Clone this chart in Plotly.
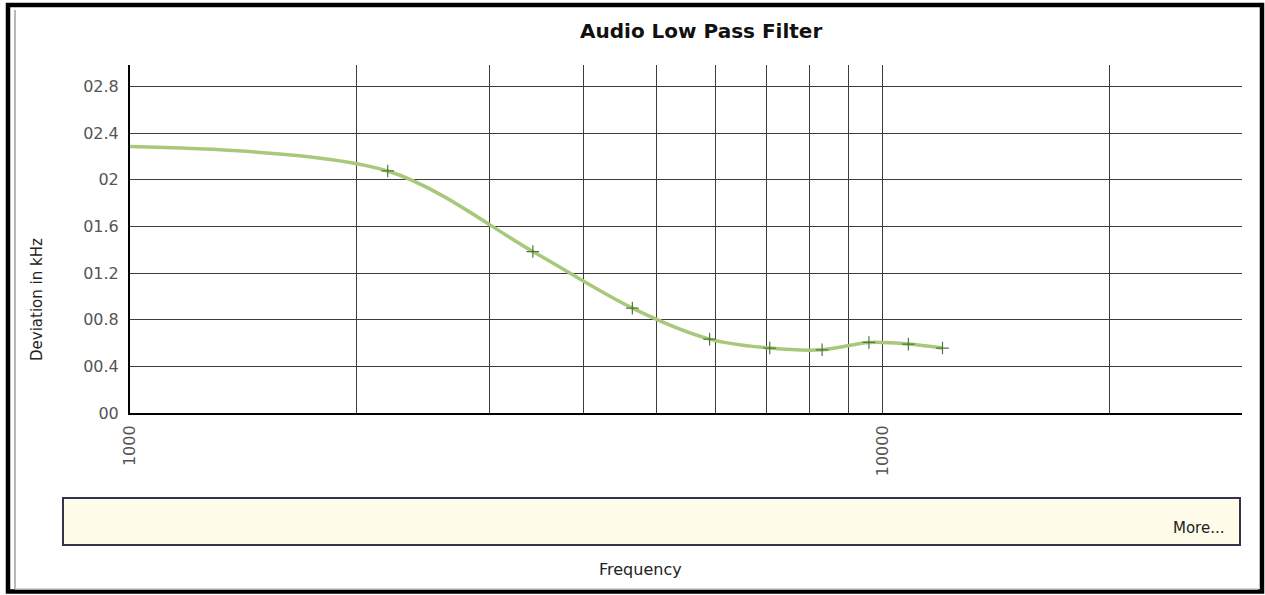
import plotly.graph_objects as go

# ---- data ----
freq_hz = [1000, 2200, 3430, 4650, 5890, 7080, 8310, 9590, 10820, 12010]
deviation_khz = [2.285, 2.076, 1.385, 0.90, 0.634, 0.557, 0.542, 0.605, 0.591, 0.557]

x_grid_vals = [1000, 2000, 3000, 4000, 5000, 6000, 7000, 8000, 9000, 10000, 20000, 30000]
x_grid_text = ["1000", "", "", "", "", "", "", "", "", "10000", "", ""]
y_tick_vals = [0, 0.4, 0.8, 1.2, 1.6, 2.0, 2.4, 2.8]
y_tick_text = ["00", "00.4", "00.8", "01.2", "01.6", "02", "02.4", "02.8"]

title_text = "Audio Low Pass Filter"
x_title = "Frequency"
y_title = "Deviation in kHz"

W, H = 1265, 595
L, R, T, B = 130, 1242, 65, 413  # plot area in pixels


def px(x):
    return (x - L) / (R - L)


def py(y):
    return (B - y) / (B - T)


fig = go.Figure()
fig.add_trace(go.Scatter(
    x=freq_hz, y=deviation_khz,
    mode="lines", line=dict(color="#a8c87c", width=3.5, shape="spline", smoothing=0.9),
    hoverinfo="skip", showlegend=False,
))
fig.add_trace(go.Scatter(
    x=freq_hz[1:], y=deviation_khz[1:],
    mode="markers",
    marker=dict(symbol="cross-thin", size=9, line=dict(color="#4b7a33", width=1.2)),
    showlegend=False,
))

font_main = "DejaVu Sans, Verdana, sans-serif"

fig.update_layout(
    width=W, height=H,
    margin=dict(l=L, r=W - R, t=T, b=H - B),
    paper_bgcolor="white", plot_bgcolor="white",
    showlegend=False,
    xaxis=dict(
        type="log", range=[3, 4.4775],
        tickmode="array", tickvals=x_grid_vals, ticktext=x_grid_text,
        tickangle=-90, tickfont=dict(family=font_main, size=16, color="#555"),
        showgrid=True, gridcolor="#3c3c3c", gridwidth=1,
        showline=True, linecolor="black", linewidth=2,
        ticks="", zeroline=False, ticklabelstandoff=4,
    ),
    yaxis=dict(
        range=[0, 2.985],
        tickmode="array", tickvals=y_tick_vals, ticktext=y_tick_text,
        tickfont=dict(family=font_main, size=16, color="#555"),
        showgrid=True, gridcolor="#3c3c3c", gridwidth=1,
        showline=True, linecolor="black", linewidth=2,
        ticks="", zeroline=False, ticklabelstandoff=6,
    ),
    shapes=[
        # outer frame
        dict(type="rect", xref="paper", yref="paper",
             x0=px(8), x1=px(1262), y0=py(591.5), y1=py(5),
             line=dict(color="black", width=4.5), layer="above"),
        # inner light frame
        dict(type="line", xref="paper", yref="paper",
             x0=px(15), x1=px(15), y0=py(589), y1=py(10),
             line=dict(color="#a0a0a0", width=1.5)),
        dict(type="line", xref="paper", yref="paper",
             x0=px(15), x1=px(1258), y0=py(589), y1=py(589),
             line=dict(color="#c8c8c8", width=1.5)),
        # legend box
        dict(type="rect", xref="paper", yref="paper",
             x0=px(63), x1=px(1240), y0=py(545), y1=py(498),
             fillcolor="#fffcea", line=dict(color="#33334d", width=2)),
    ],
    annotations=[
        dict(text="<b>" + title_text + "</b>", xref="paper", yref="paper",
             x=px(701), y=py(31), xanchor="center", yanchor="middle", showarrow=False,
             font=dict(family=font_main, size=20, color="#111")),
        dict(text=y_title, xref="paper", yref="paper", textangle=-90,
             x=px(37), y=py(300), xanchor="center", yanchor="middle", showarrow=False,
             font=dict(family=font_main, size=15, color="#222")),
        dict(text=x_title, xref="paper", yref="paper",
             x=px(640), y=py(569), xanchor="center", yanchor="middle", showarrow=False,
             font=dict(family=font_main, size=16, color="#222")),
        dict(text="More...", xref="paper", yref="paper", xanchor="right", yanchor="middle",
             x=px(1227), y=py(528), showarrow=False,
             font=dict(family=font_main, size=15, color="#222")),
    ],
)

fig.write_html("out.html", config={"displayModeBar": False},
               post_script="document.body.style.margin='0px';")
